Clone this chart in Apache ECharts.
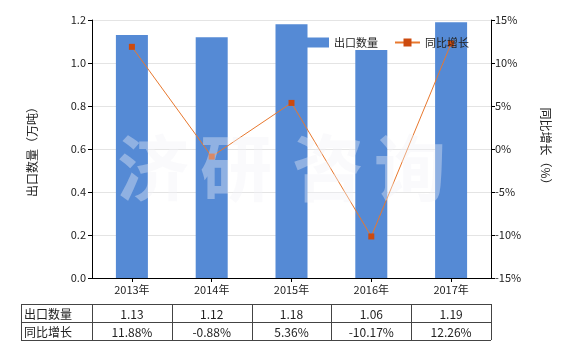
<!DOCTYPE html>
<html><head><meta charset="utf-8">
<script src="https://cdn.jsdelivr.net/npm/echarts@6/dist/echarts.min.js"></script>
<style>html,body{margin:0;padding:0;background:#fff}#c{width:580px;height:350px}</style>
</head><body><div id="c"></div>
<script>
const categories = ['2013年','2014年','2015年','2016年','2017年'];
const exportQty = [1.13, 1.12, 1.18, 1.06, 1.19];
const yoyGrowth = [11.88, -0.88, 5.36, -10.17, 12.26];
const qtyLabels = ['1.13','1.12','1.18','1.06','1.19'];
const yoyLabels = ['11.88%','-0.88%','5.36%','-10.17%','12.26%'];
const seriesNames = ['出口数量','同比增长'];
const leftName = '出口数量（万吨）';
const rightName = '同比增长（%）';
const watermark = ['济','研','咨','询'];

const FONT = '"Noto Sans CJK SC","Microsoft YaHei",sans-serif';
const G = {left: 92, top: 20, right: 89, bottom: 72};
const plotW = 580 - G.left - G.right;
const catW = plotW / categories.length;

const chart = echarts.init(document.getElementById('c'));

const graphics = [];
// watermark
const wmX = [155, 238, 330, 412];
watermark.forEach((ch, i) => {
  graphics.push({type:'text', left: wmX[i]-38, top: 132, z: 100, silent:true,
    style:{text: ch, font: 'bold 72px ' + FONT, fill: 'rgba(242,242,246,0.38)'}});
});
// table
const tTop = 304, rowH = 18, firstLeft = 21;
const lineStyle = {stroke:'#444', lineWidth:1};
const xs = [firstLeft, G.left];
for (let i = 1; i <= categories.length; i++) xs.push(G.left + catW * i);
[tTop, tTop+rowH, tTop+2*rowH].forEach(y => {
  graphics.push({type:'line', shape:{x1: firstLeft, y1: y+0.5, x2: xs[xs.length-1], y2: y+0.5}, style: lineStyle});
});
xs.forEach(x => {
  const xx = Math.round(x) + 0.5;
  graphics.push({type:'line', shape:{x1: xx, y1: tTop, x2: xx, y2: tTop+2*rowH}, style: lineStyle});
});
const rows = [[seriesNames[0], qtyLabels], [seriesNames[1], yoyLabels]];
rows.forEach((r, ri) => {
  const cy = tTop + rowH*ri + rowH/2 + 1;
  graphics.push({type:'text', x: firstLeft + 3, y: cy,
    style:{text: r[0], font: '12px ' + FONT, fill:'#222', textVerticalAlign:'middle', verticalAlign:'middle'}});
  r[1].forEach((t, ci) => {
    graphics.push({type:'text', x: G.left + catW*(ci+0.5), y: cy,
      style:{text: t, font: '12px ' + FONT, fill:'#222', textAlign:'center', align:'center', textVerticalAlign:'middle', verticalAlign:'middle'}});
  });
});

chart.setOption({
  animation: false,
  backgroundColor: '#fff',
  textStyle: {fontFamily: FONT},
  grid: {left: G.left, top: G.top, right: G.right, bottom: G.bottom, containLabel: false},
  legend: {
    left: 299, top: 32, itemGap: 16, itemWidth: 25, itemHeight: 10,
    textStyle: {fontSize: 11, color: '#222', fontFamily: FONT},
    data: [{name: seriesNames[0], icon: 'rect'}, {name: seriesNames[1]}]
  },
  xAxis: {
    type: 'category', data: categories,
    axisLine: {lineStyle: {color: '#000', width: 1}},
    axisTick: {show: true, alignWithLabel: true, length: 4, lineStyle: {color: '#000'}},
    axisLabel: {fontSize: 11, color: '#222', margin: 6, fontFamily: FONT}
  },
  yAxis: [{
    type: 'value', min: 0, max: 1.2, interval: 0.2,
    name: leftName, nameLocation: 'middle', nameRotate: 90, nameGap: 54,
    nameTextStyle: {fontSize: 12, color: '#222', fontFamily: FONT},
    axisLine: {show: true, lineStyle: {color: '#000'}},
    axisTick: {show: true, length: 4, lineStyle: {color: '#000'}},
    axisLabel: {fontSize: 11, color: '#222', formatter: v => v.toFixed(1), margin: 6},
    splitLine: {lineStyle: {color: '#e4e4e4'}}
  }, {
    type: 'value', min: -15, max: 15, interval: 5,
    name: rightName, nameLocation: 'middle', nameRotate: -90, nameGap: 49,
    nameTextStyle: {fontSize: 12, color: '#222', fontFamily: FONT},
    axisLine: {show: true, lineStyle: {color: '#000'}},
    axisTick: {show: true, length: 4, lineStyle: {color: '#000'}},
    axisLabel: {fontSize: 11, color: '#222', formatter: '{value}%', margin: 4},
    splitLine: {show: false}
  }],
  series: [{
    name: seriesNames[0], type: 'bar', data: exportQty, barWidth: 32,
    itemStyle: {color: '#558ad5'}, z: 2
  }, {
    name: seriesNames[1], type: 'line', yAxisIndex: 1, data: yoyGrowth,
    symbol: 'rect', symbolSize: 6,
    lineStyle: {color: '#e8782e', width: 1},
    itemStyle: {color: '#cc4a0e'}, z: 3
  }],
  graphic: graphics
});
</script></body></html>
